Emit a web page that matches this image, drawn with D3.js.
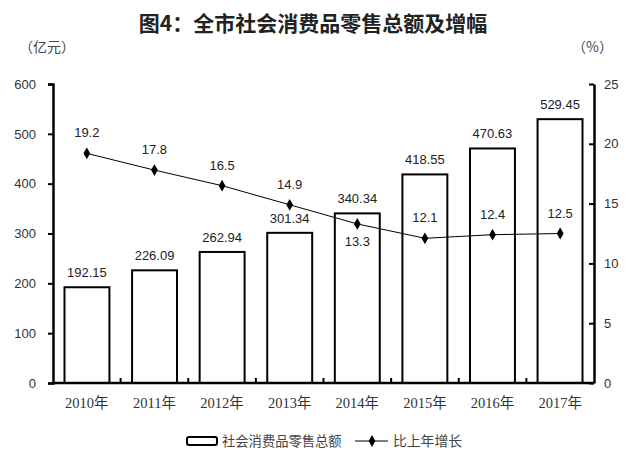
<!DOCTYPE html>
<html><head><meta charset="utf-8">
<script src="https://cdn.jsdelivr.net/npm/d3@7"></script>
<style>body{margin:0;background:#fff}svg{display:block}</style>
</head><body>
<svg id="c" width="640" height="476"></svg>
<script>
const years = ["2010年","2011年","2012年","2013年","2014年","2015年","2016年","2017年"];
const sales = [192.15,226.09,262.94,301.34,340.34,418.55,470.63,529.45];
const growth = [19.2,17.8,16.5,14.9,13.3,12.1,12.4,12.5];
const growthLabelBelow = [false,false,false,false,true,false,false,false];
const leftTicks = [0,100,200,300,400,500,600];
const rightTicks = [0,5,10,15,20,25];

const svg = d3.select("#c");
const L = 53, R = 594, T = 84, B = 383;
const x = d3.scaleBand().domain(years).range([L, R]).paddingInner(0.335).paddingOuter(0.17);
const xb = d3.scaleBand().domain(years).range([L, R]);
const yL = d3.scaleLinear().domain([0,600]).range([B,T]);
const yR = d3.scaleLinear().domain([0,25]).range([B,T]);
const sans = "'Liberation Sans', Arial, 'Noto Sans CJK SC', sans-serif";
const cjk = "'Noto Sans CJK SC', sans-serif";

svg.append("text").attr("x",313).attr("y",31).attr("text-anchor","middle")
  .attr("font-family",cjk).attr("font-size",21).attr("font-weight","bold").attr("fill","#222")
  .text("图4：全市社会消费品零售总额及增幅");
svg.append("text").attr("x",19).attr("y",52).attr("font-family",cjk).attr("font-size",14).attr("fill","#444").text("（亿元）");
svg.append("text").attr("x",572).attr("y",52).attr("font-family",cjk).attr("font-size",14).attr("fill","#444").text("（%）");

// bars
svg.selectAll("rect.bar").data(sales).enter().append("rect")
  .attr("x",(d,i)=>x(years[i])).attr("width",x.bandwidth())
  .attr("y",d=>yL(d)).attr("height",d=>B-yL(d))
  .attr("fill","#fff").attr("stroke","#000").attr("stroke-width",2);
svg.selectAll("text.bl").data(sales).enter().append("text")
  .attr("x",(d,i)=>x(years[i])+x.bandwidth()/2).attr("y",d=>yL(d)-10)
  .attr("text-anchor","middle").attr("font-family",sans).attr("font-size",13).attr("fill","#222")
  .text(d=>d.toFixed(2));

// axes
const axL = svg.append("g").attr("transform",`translate(${L},0)`)
  .call(d3.axisLeft(yL).tickValues(leftTicks).tickSize(5).tickPadding(12));
const axR = svg.append("g").attr("transform",`translate(${R},0)`)
  .call(d3.axisRight(yR).tickValues(rightTicks).tickSize(0).tickPadding(10));
axR.selectAll(".tick").append("line").attr("x1",-5).attr("x2",0).attr("stroke","#000").attr("stroke-width",2);
const axB = svg.append("g").attr("transform",`translate(0,${B})`)
  .call(d3.axisBottom(xb).tickSize(0).tickPadding(15));
[axL,axR,axB].forEach(a=>{
  a.select(".domain").attr("stroke","#000").attr("stroke-width",2.5);
  a.selectAll(".tick line").attr("stroke","#000").attr("stroke-width",2);
});
axB.select(".domain").attr("d",`M${L},0H${R}`);
axL.selectAll("text").attr("font-family",sans).attr("font-size",13).attr("fill","#333");
axR.selectAll("text").attr("font-family",sans).attr("font-size",13).attr("fill","#333");
axB.selectAll("text").attr("font-family","'Liberation Serif','Noto Sans CJK SC',serif").attr("font-size",14.5).attr("fill","#333");
// category boundary ticks pointing up
svg.selectAll("line.bt").data(years.slice(1)).enter().append("line")
  .attr("x1",d=>xb(d)).attr("x2",d=>xb(d)).attr("y1",B).attr("y2",B-5)
  .attr("stroke","#000").attr("stroke-width",2);

// line
const cx = i => xb(years[i]) + xb.bandwidth()/2;
svg.append("path").datum(growth)
  .attr("d",d3.line().x((d,i)=>cx(i)).y(d=>yR(d)))
  .attr("fill","none").attr("stroke","#000").attr("stroke-width",1);
svg.selectAll("path.pt").data(growth).enter().append("path")
  .attr("d",d3.symbol(d3.symbolDiamond,40))
  .attr("transform",(d,i)=>`translate(${cx(i)},${yR(d)})`).attr("fill","#000");
svg.selectAll("text.gl").data(growth).enter().append("text")
  .attr("x",(d,i)=>cx(i)).attr("y",(d,i)=>growthLabelBelow[i]?yR(d)+22:yR(d)-16)
  .attr("text-anchor","middle").attr("font-family",sans).attr("font-size",13).attr("fill","#222")
  .text(d=>d.toFixed(1));

// legend
const lg = svg.append("g");
lg.append("rect").attr("x",187).attr("y",437).attr("width",30).attr("height",8).attr("rx",2)
  .attr("fill","#fff").attr("stroke","#000").attr("stroke-width",2);
lg.append("text").attr("x",222).attr("y",446).attr("font-family",cjk).attr("font-size",13.3).attr("fill","#444").text("社会消费品零售总额");
lg.append("line").attr("x1",355).attr("x2",388).attr("y1",441).attr("y2",441).attr("stroke","#000").attr("stroke-width",1);
lg.append("path").attr("d",d3.symbol(d3.symbolDiamond,40)).attr("transform","translate(372,441)").attr("fill","#000");
lg.append("text").attr("x",393).attr("y",446).attr("font-family",cjk).attr("font-size",13.8).attr("fill","#444").text("比上年增长");
</script>
</body></html>
